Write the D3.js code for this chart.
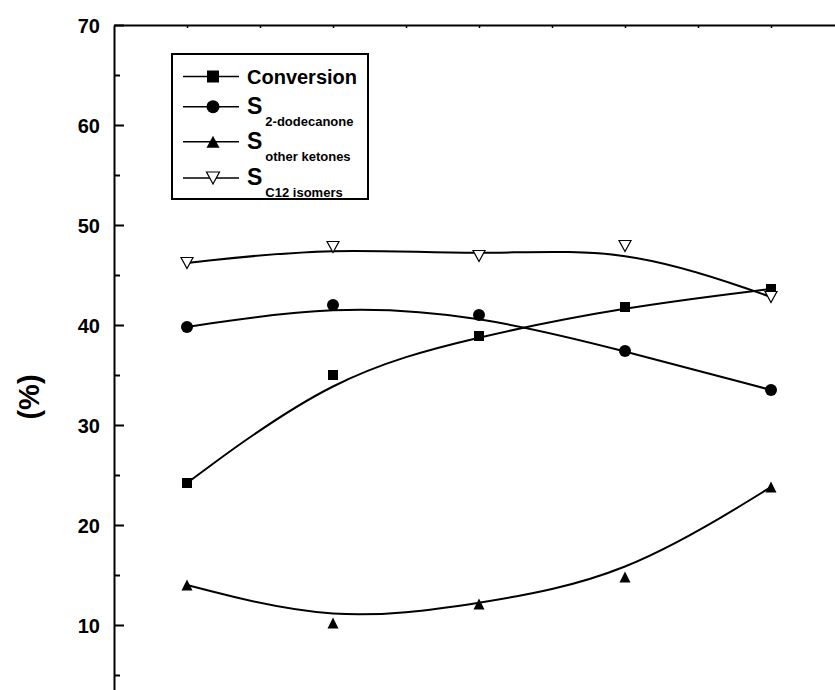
<!DOCTYPE html>
<html>
<head>
<meta charset="utf-8">
<script src="https://cdn.jsdelivr.net/npm/d3@7/dist/d3.min.js"></script>
<style>
  html, body { margin: 0; padding: 0; background: #fff; }
  svg { display: block; }
  text { font-family: "Liberation Sans", Arial, Helvetica, sans-serif; font-weight: bold; fill: #000; }
</style>
</head>
<body>
<svg id="chart" width="835" height="690"></svg>
<script>
// Sample runs along the horizontal axis
const runs = [1, 2, 3, 4, 5];

// Series values (%)
const conversion    = [24.2, 35.0, 38.9, 41.8, 43.6];
const s2Dodecanone  = [39.8, 42.0, 41.0, 37.4, 33.5];
const sOtherKetones = [14.0, 10.2, 12.1, 14.8, 23.8];
const sC12Isomers   = [46.2, 47.8, 46.9, 47.9, 42.8];

// Axis ticks
const yMajorTicks = [10, 20, 30, 40, 50, 60, 70];
const yMinorTicks = [5, 15, 25, 35, 45, 55, 65];
const xTopTicks = [1, 1.5, 2, 2.5, 3, 3.5, 4, 4.5, 5];

const svg = d3.select("#chart");

const x = d3.scaleLinear().domain([0.5, 5.5]).range([114, 844]);
const y = d3.scaleLinear().domain([0, 70]).range([725, 25]);

// marker shapes, bounding-box centred
function squarePath(s) { const h = s / 2; return `M${-h},${-h}H${h}V${h}H${-h}Z`; }
function circlePath(d) { const r = d / 2; return `M${r},0A${r},${r} 0 1,1 ${-r},0A${r},${r} 0 1,1 ${r},0Z`; }
function triUpPath(w, h) { return `M0,${-h / 2}L${w / 2},${h / 2}L${-w / 2},${h / 2}Z`; }
function triDownPath(w, h) { return `M0,${h / 2}L${w / 2},${-h / 2}L${-w / 2},${-h / 2}Z`; }

const series = [
  { name: "Conversion", values: conversion, marker: squarePath(10), legendMarker: squarePath(12), fill: "#000" },
  { name: "S", sub: "2-dodecanone", values: s2Dodecanone, marker: circlePath(12), legendMarker: circlePath(13), fill: "#000" },
  { name: "S", sub: "other ketones", values: sOtherKetones, marker: triUpPath(11, 11), legendMarker: triUpPath(13, 12), fill: "#000" },
  { name: "S", sub: "C12 isomers", values: sC12Isomers, marker: triDownPath(12, 11), legendMarker: triDownPath(13, 12), fill: "#fff" }
];

// smoothed connecting curves (B-spline)
const line = d3.line()
  .x((d, i) => x(runs[i]))
  .y(d => y(d))
  .curve(d3.curveBasis);

const plot = svg.append("g");

series.forEach(s => {
  plot.append("path")
    .attr("d", line(s.values))
    .attr("fill", "none")
    .attr("stroke", "#000")
    .attr("stroke-width", 2);
});

series.forEach(s => {
  plot.selectAll(null)
    .data(s.values)
    .enter()
    .append("path")
    .attr("d", s.marker)
    .attr("transform", (d, i) => `translate(${x(runs[i])},${y(d)})`)
    .attr("fill", s.fill)
    .attr("stroke", "#000")
    .attr("stroke-width", s.fill === "#fff" ? 1.2 : 0);
});

// left axis: major ticks with labels, minor ticks, both pointing inward
const yAxisMajor = d3.axisLeft(y).tickValues(yMajorTicks).tickSize(-10).tickSizeOuter(0).tickPadding(14);
const yAxisMinor = d3.axisLeft(y).tickValues(yMinorTicks).tickSize(-6).tickSizeOuter(0).tickFormat("");

const gy = svg.append("g").attr("transform", `translate(${x(0.5)},0)`).call(yAxisMajor);
gy.selectAll(".tick line").attr("stroke", "#000").attr("stroke-width", 2);
gy.selectAll(".tick text").attr("font-size", 20).attr("font-family", "Liberation Sans, Arial, sans-serif").attr("font-weight", "bold").attr("dy", "0.36em");
gy.select(".domain").attr("stroke", "#000").attr("stroke-width", 2);

const gyMinor = svg.append("g").attr("transform", `translate(${x(0.5)},0)`).call(yAxisMinor);
gyMinor.selectAll(".tick line").attr("stroke", "#000").attr("stroke-width", 2);
gyMinor.select(".domain").remove();

// top axis line with short inward ticks
const xTop = d3.axisTop(x).tickValues(xTopTicks).tickSize(-3).tickSizeOuter(0).tickFormat("");
const gx = svg.append("g").attr("transform", `translate(0,${y(70)})`).call(xTop);
gx.select(".domain").attr("stroke", "#000").attr("stroke-width", 2);
gx.selectAll(".tick line").attr("stroke", "#000").attr("stroke-width", 1.5);

// y-axis title
svg.append("text")
  .attr("transform", `translate(39,397) rotate(-90)`)
  .attr("text-anchor", "middle")
  .attr("font-size", 29)
  .text("(%)");

// legend
const legend = svg.append("g");
legend.append("rect")
  .attr("x", 172).attr("y", 54)
  .attr("width", 196).attr("height", 145)
  .attr("fill", "#fff")
  .attr("stroke", "#000")
  .attr("stroke-width", 2);

const legendRows = [
  { cy: 76.5, base: 84 },
  { cy: 106.7, base: 114 },
  { cy: 141.7, base: 149 },
  { cy: 178, base: 185 }
];

series.forEach((s, i) => {
  const r = legendRows[i];
  legend.append("line")
    .attr("x1", 183).attr("x2", 239)
    .attr("y1", r.cy).attr("y2", r.cy)
    .attr("stroke", "#000").attr("stroke-width", 1.5);
  legend.append("path")
    .attr("d", s.legendMarker)
    .attr("transform", `translate(213,${r.cy})`)
    .attr("fill", s.fill)
    .attr("stroke", "#000")
    .attr("stroke-width", s.fill === "#fff" ? 1.2 : 0);
  const t = legend.append("text")
    .attr("x", 247).attr("y", r.base)
    .attr("font-size", s.sub ? 23 : 20);
  t.append("tspan").text(s.name);
  if (s.sub) {
    t.append("tspan")
      .attr("dx", 3).attr("dy", 12)
      .attr("font-size", 13)
      .text(s.sub);
  }
});
</script>
</body>
</html>
